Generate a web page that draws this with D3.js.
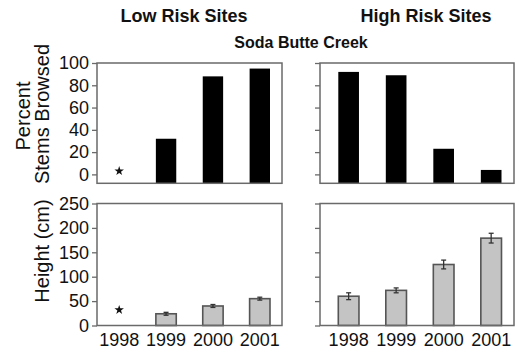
<!DOCTYPE html>
<html><head><meta charset="utf-8">
<script src="https://cdn.jsdelivr.net/npm/d3@7"></script>
<style>body{margin:0;background:#fff;} text{font-family:"Liberation Sans",Arial,sans-serif;}</style>
</head><body>
<svg id="chart" width="519" height="352"></svg>
<script>
const years = ["1998","1999","2000","2001"];
const browsedLow = [null, 32, 88, 95];
const browsedHigh = [92, 89, 23, 4];
const heightLow = [null, 24, 40, 55];
const heightLowErr = [null, 3, 3, 3];
const heightHigh = [60, 72, 125, 179];
const heightHighErr = [7, 5, 9, 10];
const browsedTicks = [0, 20, 40, 60, 80, 100];
const heightTicks = [0, 50, 100, 150, 200, 250];
const missingBrowsed = 3;   // star marker position (no data)
const missingHeight = 32;

const svg = d3.select("#chart");
const leftX = [97, 282], rightX = [320, 514];
const topY = [63, 183.3], botY = [203.5, 325.5];

const xL = d3.scaleBand().domain(years).range([109, 270]).paddingInner(0.565).paddingOuter(0);
const xR = d3.scaleBand().domain(years).range([338.3, 501.5]).paddingInner(0.565).paddingOuter(0);
const yTop = d3.scaleLinear().domain([-8, 100]).range([topY[1], topY[0]]);
const yBot = d3.scaleLinear().domain([0, 250]).range([botY[1], botY[0]]);

const frameColor = "#6a6a6a";

function panel(xr, yr, x, y, ticks, showLabels, vals, errs, fill, stroke, missing, base) {
  const g = svg.append("g");
  // bars
  years.forEach((yr_, i) => {
    const v = vals[i];
    if (v == null) {
      g.append("path")
        .attr("d", d3.symbol().type(d3.symbolStar).size(28)())
        .attr("transform", `translate(${x(yr_) + x.bandwidth()/2},${y(missing)})`)
        .attr("fill", "#111");
      return;
    }
    g.append("rect")
      .attr("x", x(yr_)).attr("width", x.bandwidth())
      .attr("y", y(v)).attr("height", y(base) - y(v))
      .attr("fill", fill)
      .attr("stroke", stroke).attr("stroke-width", stroke === "none" ? 0 : 1.6);
    if (errs && errs[i] != null) {
      const cx = x(yr_) + x.bandwidth()/2;
      const e = errs[i];
      g.append("line").attr("x1", cx).attr("x2", cx).attr("y1", y(v + e)).attr("y2", y(v - e))
        .attr("stroke", "#333").attr("stroke-width", 1.3);
      [v + e, v - e].forEach(t => g.append("line").attr("x1", cx - 2.5).attr("x2", cx + 2.5)
        .attr("y1", y(t)).attr("y2", y(t)).attr("stroke", "#333").attr("stroke-width", 1.3));
    }
  });
  // frame
  g.append("rect").attr("x", xr[0]).attr("y", yr[0]).attr("width", xr[1] - xr[0]).attr("height", yr[1] - yr[0])
    .attr("fill", "none").attr("stroke", frameColor).attr("stroke-width", 1.5);
  // y axis
  const ax = d3.axisLeft(y).tickValues(ticks).tickSize(5).tickPadding(3)
    .tickFormat(showLabels ? d3.format("d") : () => "");
  const ag = g.append("g").attr("transform", `translate(${xr[0]},0)`).call(ax);
  ag.select(".domain").remove();
  ag.selectAll(".tick line").attr("stroke", frameColor).attr("stroke-width", 1.3);
  ag.selectAll(".tick text").attr("font-size", 18).attr("fill", "#111")
    .attr("font-family", "Liberation Sans, Arial, sans-serif");
  return g;
}

panel(leftX, topY, xL, yTop, browsedTicks, true, browsedLow, null, "#000", "none", missingBrowsed, -8);
panel(rightX, topY, xR, yTop, browsedTicks, false, browsedHigh, null, "#000", "none", missingBrowsed, -8);
panel(leftX, botY, xL, yBot, heightTicks, true, heightLow, heightLowErr, "#c4c4c4", "#555", missingHeight, 0);
panel(rightX, botY, xR, yBot, heightTicks, false, heightHigh, heightHighErr, "#c4c4c4", "#555", missingHeight, 0);

// x axes (labels only)
[xL, xR].forEach(x => {
  const ag = svg.append("g").attr("transform", `translate(0,${botY[1]})`)
    .call(d3.axisBottom(x).tickSize(0).tickPadding(8));
  ag.select(".domain").remove();
  ag.selectAll(".tick text").attr("font-size", 18).attr("fill", "#111")
    .attr("font-family", "Liberation Sans, Arial, sans-serif");
});

// titles
svg.append("text").attr("x", 184).attr("y", 22).attr("text-anchor", "middle")
  .attr("font-size", 18).attr("font-weight", "bold").attr("fill", "#111").text("Low Risk Sites");
svg.append("text").attr("x", 426).attr("y", 22).attr("text-anchor", "middle")
  .attr("font-size", 18).attr("font-weight", "bold").attr("fill", "#111").text("High Risk Sites");
svg.append("text").attr("x", 301).attr("y", 48).attr("text-anchor", "middle")
  .attr("font-size", 16).attr("font-weight", "bold").attr("fill", "#111").text("Soda Butte Creek");

// y titles
svg.append("text").attr("transform", "translate(30,116) rotate(-90)").attr("text-anchor", "middle")
  .attr("font-size", 20).attr("fill", "#111").text("Percent");
svg.append("text").attr("transform", "translate(49,114) rotate(-90)").attr("text-anchor", "middle")
  .attr("font-size", 20).attr("fill", "#111").text("Stems Browsed");
svg.append("text").attr("transform", "translate(49,251) rotate(-90)").attr("text-anchor", "middle")
  .attr("font-size", 20).attr("fill", "#111").text("Height (cm)");
</script>
</body></html>
